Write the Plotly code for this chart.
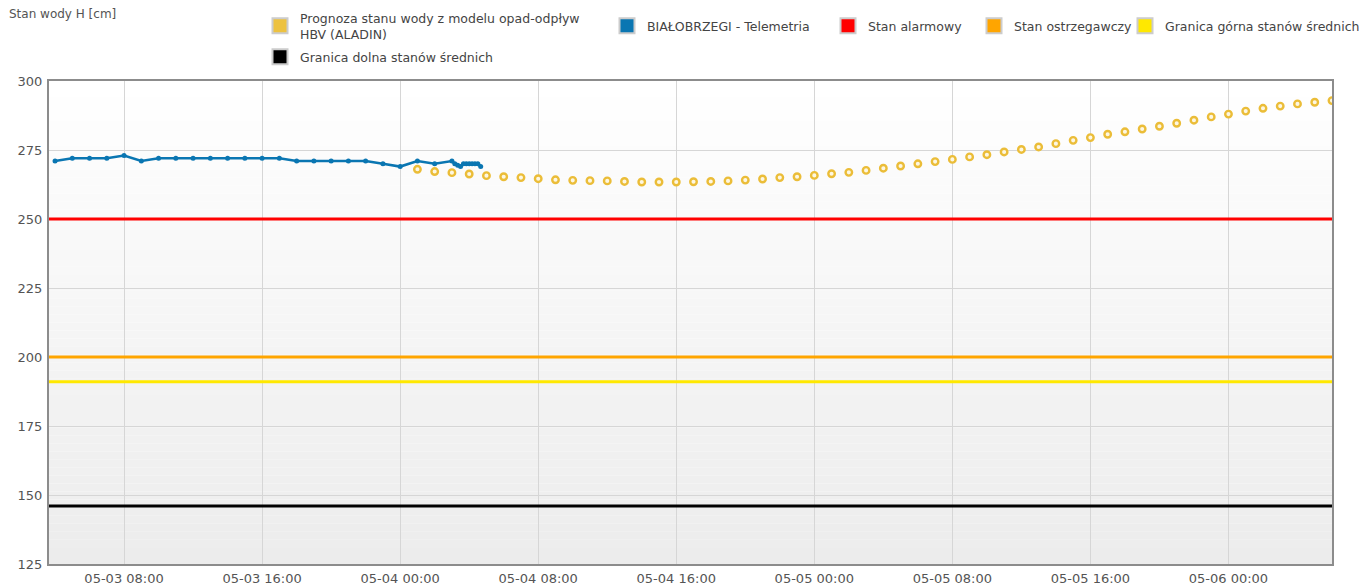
import plotly.graph_objects as go
import pandas as pd

# ---------------- data ----------------
tele_hourly_start = "2024-05-03 04:00"
tele_hourly_values = [271, 272, 272, 272, 273, 271, 272, 272, 272, 272, 272, 272,
                      272, 272, 271, 271, 271, 271, 271, 270, 269, 271, 270, 271]
tele_dense_start = "2024-05-04 03:10"
tele_dense_values = [270, 269.5, 269, 270, 270, 270, 270, 270, 270, 269]

forecast_start = "2024-05-04 01:00"
forecast_values = [268.0, 267.2, 266.8, 266.3, 265.7, 265.3, 265.0, 264.6, 264.2, 264.0,
                   263.9, 263.8, 263.6, 263.4, 263.4, 263.4, 263.5, 263.6, 263.8, 264.1,
                   264.5, 265.0, 265.3, 265.8, 266.4, 266.9, 267.6, 268.4, 269.2, 270.0,
                   270.8, 271.6, 272.5, 273.3, 274.3, 275.2, 276.1, 277.3, 278.5, 279.5,
                   280.7, 281.6, 282.6, 283.6, 284.7, 285.8, 287.0, 288.0, 289.1, 290.1,
                   290.9, 291.7, 292.3, 292.9]

alarm_level = 250
warning_level = 200
upper_mean_level = 191
lower_mean_level = 146

x_start = "2024-05-03 03:39"
x_end = "2024-05-06 06:00"

y_ticks = [125, 150, 175, 200, 225, 250, 275, 300]

names = {
    "forecast": "Prognoza stanu wody z modelu opad-odpływ<br>HBV (ALADIN)",
    "tele": "BIAŁOBRZEGI - Telemetria",
    "alarm": "Stan alarmowy",
    "warning": "Stan ostrzegawczy",
    "upper": "Granica górna stanów średnich",
    "lower": "Granica dolna stanów średnich",
}

# ---------------- build ----------------
tele_x = list(pd.date_range(tele_hourly_start, periods=len(tele_hourly_values), freq="h")) + \
         list(pd.date_range(tele_dense_start, periods=len(tele_dense_values), freq="10min"))
tele_y = tele_hourly_values + tele_dense_values
fc_x = pd.date_range(forecast_start, periods=len(forecast_values), freq="h")

C_FC = "#edc240"
C_TELE = "#0a76b2"
C_ALARM = "#ff0000"
C_WARN = "#ffa500"
C_UPPER = "#ffe800"
C_LOWER = "#000000"

FONT = "DejaVu Sans"

fig = go.Figure()

# threshold lines
for key, lvl, col in [("alarm", alarm_level, C_ALARM), ("warning", warning_level, C_WARN),
                      ("upper", upper_mean_level, C_UPPER), ("lower", lower_mean_level, C_LOWER)]:
    fig.add_trace(go.Scatter(x=[x_start, x_end], y=[lvl, lvl], mode="lines",
                             line=dict(color=col, width=3), showlegend=False,
                             name=names[key].replace("<br>", " ")))

# forecast
fig.add_trace(go.Scatter(x=fc_x, y=forecast_values, mode="markers",
                         marker=dict(symbol="circle", size=6.5, color="#fdf7e2",
                                     line=dict(color="#ebbd38", width=2.4)),
                         showlegend=False, name="Prognoza"))
# telemetry
fig.add_trace(go.Scatter(x=tele_x, y=tele_y, mode="lines+markers",
                         line=dict(color=C_TELE, width=2.6),
                         marker=dict(size=5, color=C_TELE),
                         showlegend=False, name="Telemetria"))

# page geometry: body has an 8px margin, plot area spans page x 49..1332, y 81..564
PW = 1283.0
PH = 483.0
def px_x(px):
    return (px - 49) / PW
def px_y(py):
    return (564 - py) / PH

legend_items = [
    ("forecast", C_FC, "legend", 260, 26),
    ("tele", C_TELE, "legend2", 607, 26),
    ("alarm", C_ALARM, "legend3", 828, 26),
    ("warning", C_WARN, "legend4", 974, 26),
    ("upper", C_UPPER, "legend5", 1125, 26),
    ("lower", C_LOWER, "legend6", 260, 57),
]
layout_legends = {}
for key, col, lg, lx, ly in legend_items:
    fig.add_trace(go.Scatter(x=[None], y=[None], mode="markers", name=names[key],
                             marker=dict(symbol="square", size=15, color=col,
                                         line=dict(color="#cccccc", width=2)),
                             legend=lg, showlegend=True))
    layout_legends[lg] = dict(x=px_x(lx), y=px_y(ly), xanchor="left", yanchor="middle",
                              bgcolor="rgba(0,0,0,0)", borderwidth=0,
                              font=dict(family=FONT, size=12.5, color="#444444"),
                              itemclick=False, itemdoubleclick=False)

# gradient background bands
N = 60
shapes = []
for i in range(N):
    t = (i + 0.5) / N  # 0 bottom -> 1 top
    v = int(round(236 + (255 - 236) * t))
    shapes.append(dict(type="rect", xref="x domain", yref="y domain",
                       x0=0, x1=1, y0=i / N, y1=(i + 1) / N,
                       fillcolor=f"rgb({v},{v},{v})", line=dict(width=0), layer="below"))

fig.update_layout(
    width=1360, height=578,
    margin=dict(l=41, r=36, t=73, b=22, autoexpand=False),
    paper_bgcolor="white", plot_bgcolor="white",
    font=dict(family=FONT, size=13, color="#545454"),
    shapes=shapes,
    showlegend=True,
    annotations=[dict(text="Stan wody H [cm]", xref="paper", yref="paper",
                      x=px_x(7), y=px_y(14), xanchor="left", yanchor="middle",
                      showarrow=False, font=dict(family=FONT, size=12, color="#545454"))],
    **layout_legends,
)
fig.update_xaxes(type="date", range=[x_start, x_end], tick0="2024-05-03 00:00",
                 dtick=8 * 3600 * 1000, tickformat="%m-%d %H:%M",
                 showgrid=True, gridcolor="#d6d6d6", gridwidth=1,
                 showline=True, mirror=True, linecolor="#8c8c8c", linewidth=2,
                 ticks="", ticklabelstandoff=1, zeroline=False,
                 tickfont=dict(family=FONT, size=13, color="#545454"))
fig.update_yaxes(range=[125, 300], tickvals=y_ticks,
                 showgrid=True, gridcolor="#d6d6d6", gridwidth=1,
                 showline=True, mirror=True, linecolor="#8c8c8c", linewidth=2,
                 ticks="", ticklabelstandoff=2, zeroline=False,
                 tickfont=dict(family=FONT, size=13, color="#545454"))

fig.write_html("out.html")
